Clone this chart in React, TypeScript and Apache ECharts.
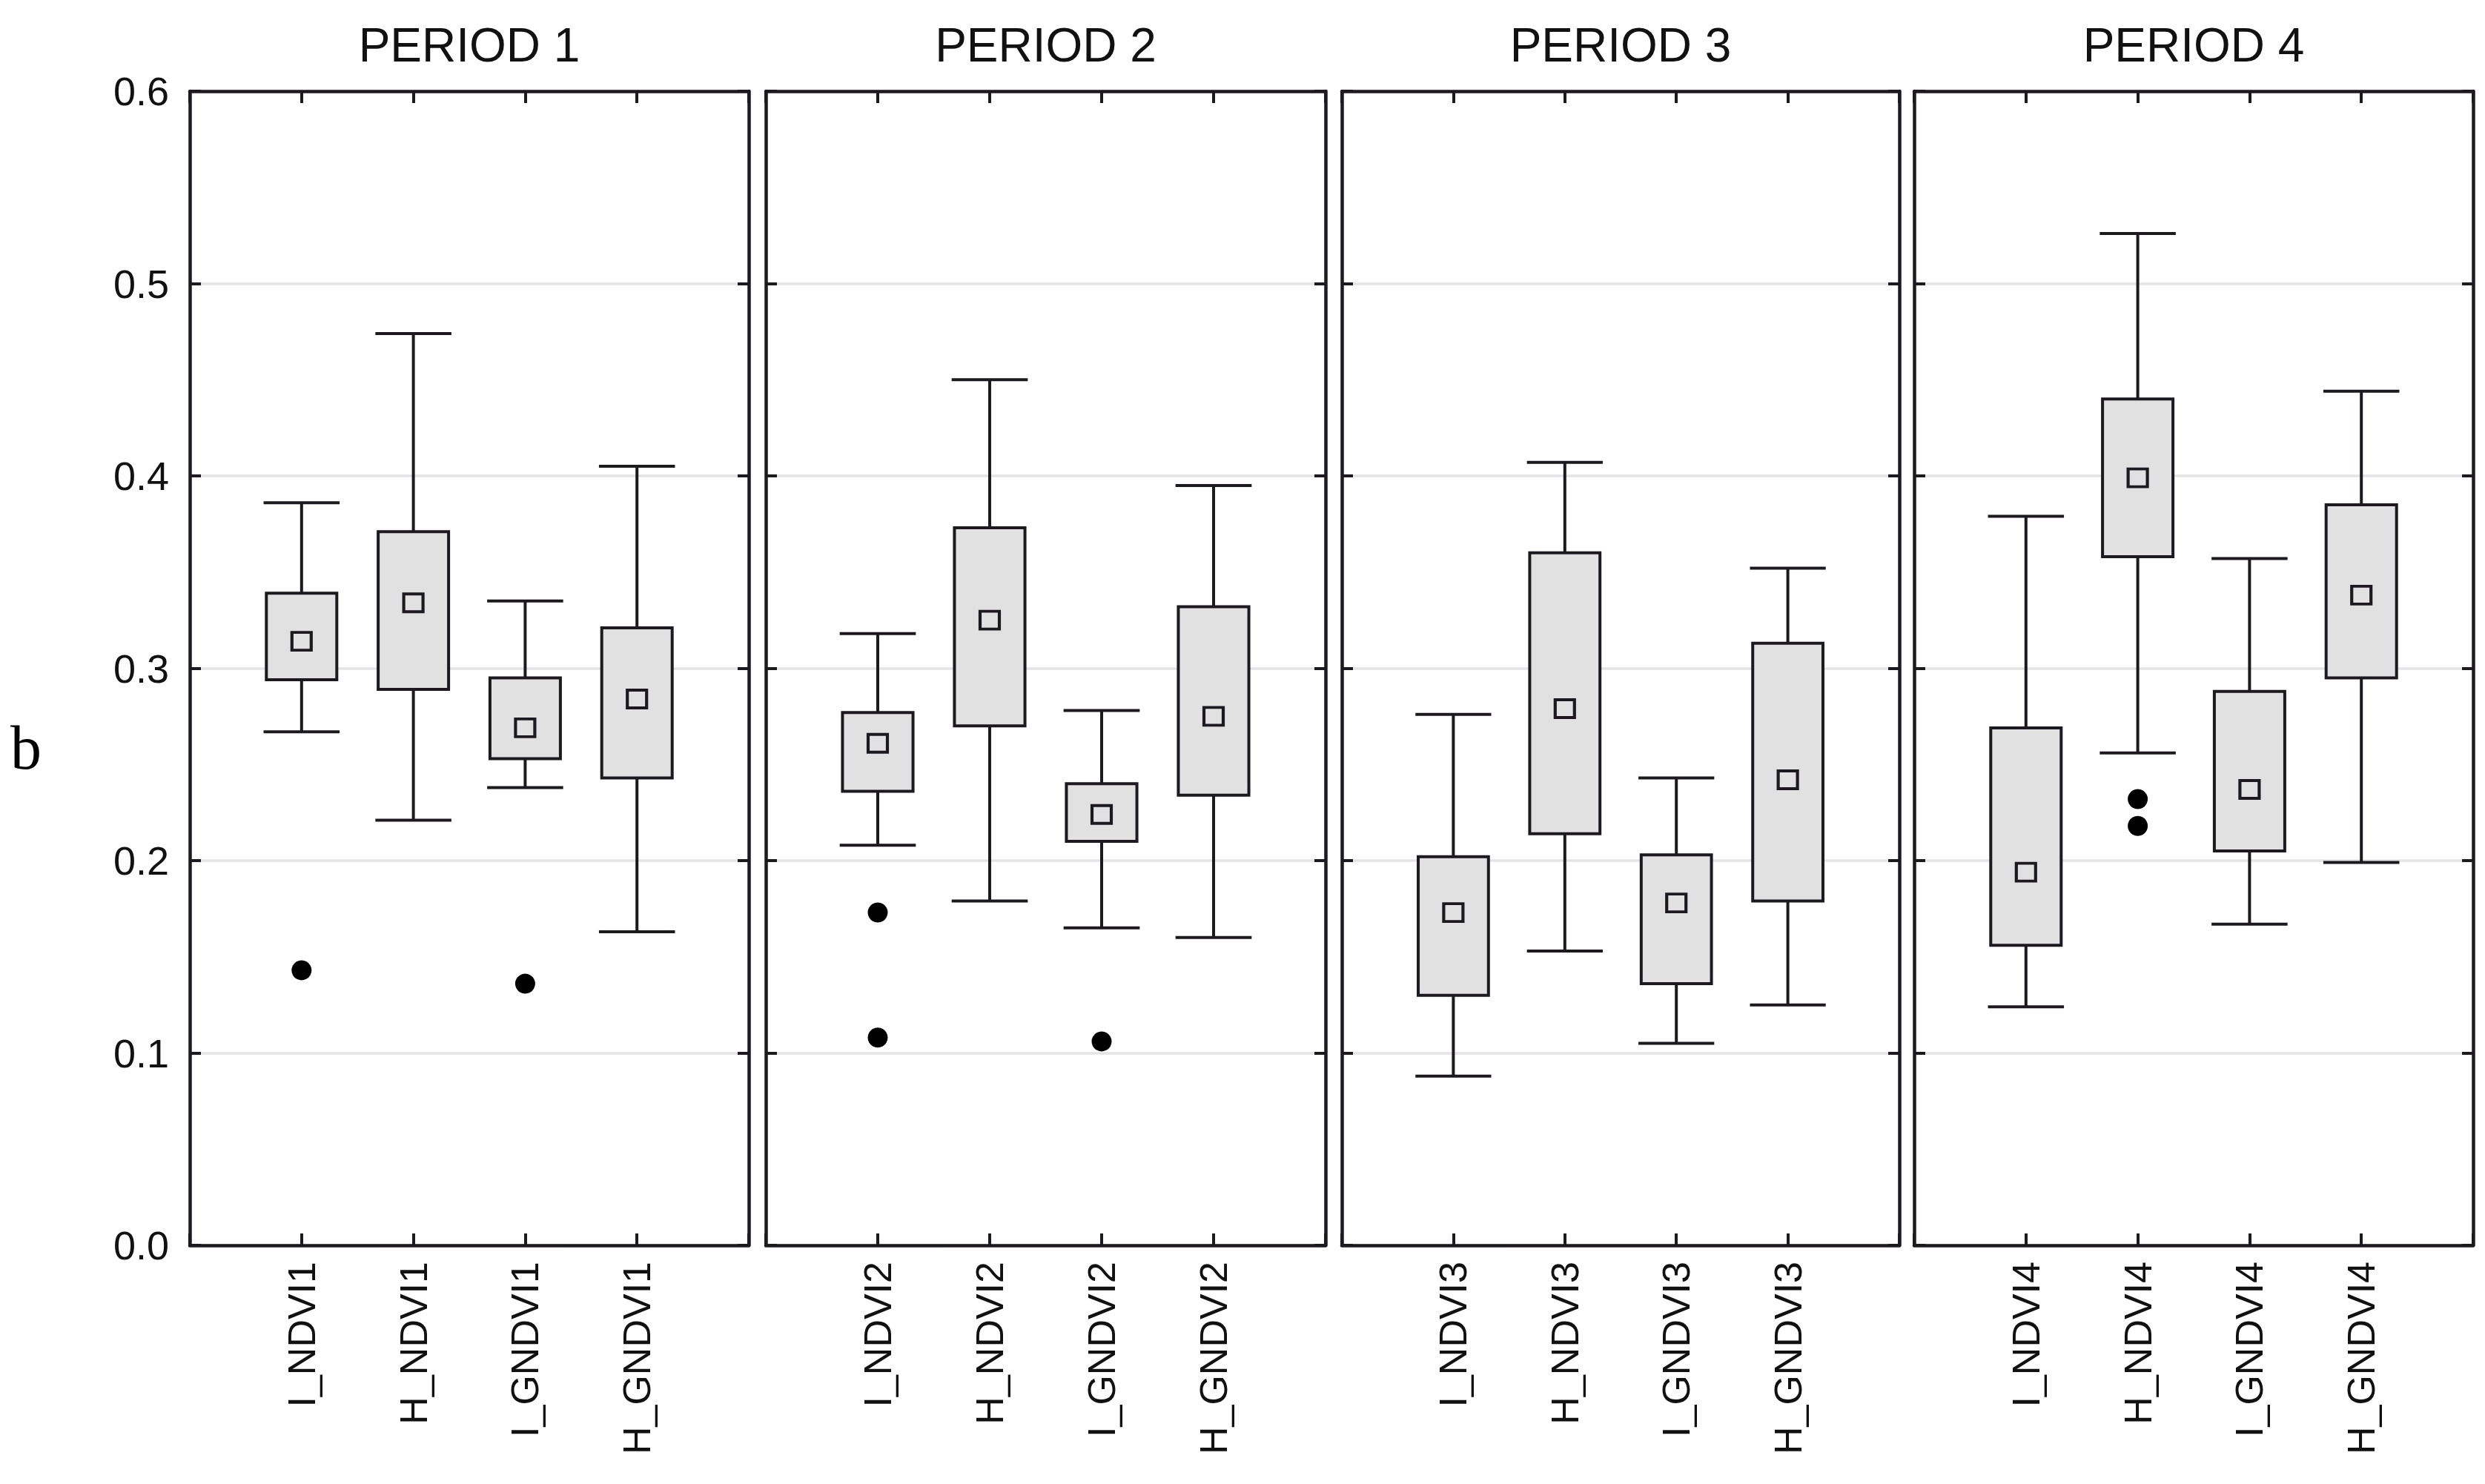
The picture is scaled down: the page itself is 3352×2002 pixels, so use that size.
import React, { useEffect, useRef } from "react";
import * as echarts from "echarts";

const periods = ["PERIOD 1", "PERIOD 2", "PERIOD 3", "PERIOD 4"];

const categories1 = ["I_NDVI1", "H_NDVI1", "I_GNDVI1", "H_GNDVI1"];
const categories2 = ["I_NDVI2", "H_NDVI2", "I_GNDVI2", "H_GNDVI2"];
const categories3 = ["I_NDVI3", "H_NDVI3", "I_GNDVI3", "H_GNDVI3"];
const categories4 = ["I_NDVI4", "H_NDVI4", "I_GNDVI4", "H_GNDVI4"];
const categories = [categories1, categories2, categories3, categories4];

// per period, per variable
const whiskerLow = [
  [0.267, 0.221, 0.238, 0.163],
  [0.208, 0.179, 0.165, 0.16],
  [0.088, 0.153, 0.105, 0.125],
  [0.124, 0.256, 0.167, 0.199],
];
const boxLow = [
  [0.294, 0.289, 0.253, 0.243],
  [0.236, 0.27, 0.21, 0.234],
  [0.13, 0.214, 0.136, 0.179],
  [0.156, 0.358, 0.205, 0.295],
];
const centre = [
  [0.314, 0.334, 0.269, 0.284],
  [0.261, 0.325, 0.224, 0.275],
  [0.173, 0.279, 0.178, 0.242],
  [0.194, 0.399, 0.237, 0.338],
];
const boxHigh = [
  [0.339, 0.371, 0.295, 0.321],
  [0.277, 0.373, 0.24, 0.332],
  [0.202, 0.36, 0.203, 0.313],
  [0.269, 0.44, 0.288, 0.385],
];
const whiskerHigh = [
  [0.386, 0.474, 0.335, 0.405],
  [0.318, 0.45, 0.278, 0.395],
  [0.276, 0.407, 0.243, 0.352],
  [0.379, 0.526, 0.357, 0.444],
];
// [period index, variable index, value]
const outliers = [
  [0, 0, 0.143],
  [0, 2, 0.136],
  [1, 0, 0.173],
  [1, 0, 0.108],
  [1, 2, 0.106],
  [3, 1, 0.232],
  [3, 1, 0.218],
];

const yTicks = [0, 0.1, 0.2, 0.3, 0.4, 0.5, 0.6];

const INK = "#1c1a1f";
const BOXFILL = "#e1e1e1";
const GRIDC = "#e4e4e4";

const gridLefts = [256, 1033, 1810, 2582];
const gridWidths = [754, 755, 752, 754];
const gridTop = 123;
const gridHeight = 1557;

export default function App() {
  const ref = useRef<HTMLDivElement>(null);

  useEffect(() => {
    if (!ref.current) return;
    const chart = echarts.init(ref.current, null, { renderer: "svg" });

    const grids: any[] = [];
    const xAxes: any[] = [];
    const yAxes: any[] = [];
    const series: any[] = [];
    const graphics: any[] = [];

    periods.forEach((p, i) => {
      grids.push({
        left: gridLefts[i],
        top: gridTop,
        width: gridWidths[i],
        height: gridHeight,
        show: false,
      });
      const names = categories[i];
      const xBase = {
        type: "value",
        gridIndex: i,
        min: 0,
        max: 5,
        interval: 1,
        z: 3,
        axisLine: { show: true, onZero: false, lineStyle: { color: INK, width: 4.5 } },
        axisTick: { show: true, inside: true, length: 16, lineStyle: { color: INK, width: 4 } },
        splitLine: { show: false },
      };
      xAxes.push({
        ...xBase,
        position: "bottom",
        axisLabel: {
          show: true,
          rotate: 90,
          margin: 22,
          fontSize: 52,
          fontFamily: "Liberation Sans",
          color: "#111",
          formatter: (v: number) => names[v - 1] ?? "",
        },
      });
      xAxes.push({
        ...xBase,
        position: "top",
        axisLabel: { show: false },
      });
      const yBase = {
        type: "value",
        gridIndex: i,
        min: yTicks[0],
        max: yTicks[yTicks.length - 1],
        interval: 0.1,
        axisLine: { show: true, onZero: false, lineStyle: { color: INK, width: 4.5 } },
        axisTick: { show: true, inside: true, length: 15, lineStyle: { color: INK, width: 4 } },
      };
      yAxes.push({
        ...yBase,
        position: "left",
        z: 1,
        splitLine: { show: true, lineStyle: { color: GRIDC, width: 3.5 } },
        axisLabel: {
          show: i === 0,
          margin: 28,
          fontSize: 54,
          fontFamily: "Liberation Sans",
          color: "#111",
          formatter: (v: number) => v.toFixed(1),
        },
      });
      yAxes.push({
        ...yBase,
        position: "right",
        z: 3,
        splitLine: { show: false },
        axisLabel: { show: false },
      });

      const boxData = names.map((_, k) => [
        k + 1,
        whiskerLow[i][k],
        boxLow[i][k],
        boxHigh[i][k],
        whiskerHigh[i][k],
      ]);
      series.push({
        type: "custom",
        xAxisIndex: i * 2,
        yAxisIndex: i * 2,
        z: 4,
        encode: { x: 0, y: [1, 2, 3, 4] },
        data: boxData,
        renderItem: (params: any, api: any) => {
          const x = api.value(0);
          const lo = api.coord([x, api.value(1)]);
          const q1 = api.coord([x, api.value(2)]);
          const q3 = api.coord([x, api.value(3)]);
          const hi = api.coord([x, api.value(4)]);
          const unit = api.size([1, 0])[0];
          const bw = unit * 0.63;
          const cw = unit * 0.68;
          const ls = { stroke: INK, lineWidth: 4 };
          return {
            type: "group",
            children: [
              { type: "line", shape: { x1: lo[0], y1: lo[1], x2: hi[0], y2: hi[1] }, style: ls },
              { type: "line", shape: { x1: lo[0] - cw / 2, y1: lo[1], x2: lo[0] + cw / 2, y2: lo[1] }, style: ls },
              { type: "line", shape: { x1: hi[0] - cw / 2, y1: hi[1], x2: hi[0] + cw / 2, y2: hi[1] }, style: ls },
              {
                type: "rect",
                shape: { x: q3[0] - bw / 2, y: q3[1], width: bw, height: q1[1] - q3[1] },
                style: { fill: BOXFILL, stroke: INK, lineWidth: 4 },
              },
            ],
          };
        },
      });
      series.push({
        type: "scatter",
        xAxisIndex: i * 2,
        yAxisIndex: i * 2,
        z: 5,
        symbol: "rect",
        symbolSize: [26, 24],
        itemStyle: { color: BOXFILL, borderColor: INK, borderWidth: 4, opacity: 1 },
        data: names.map((_, k) => [k + 1, centre[i][k]]),
      });
      series.push({
        type: "scatter",
        xAxisIndex: i * 2,
        yAxisIndex: i * 2,
        z: 5,
        symbol: "circle",
        symbolSize: 27,
        itemStyle: { color: "#000", opacity: 1 },
        data: outliers.filter((o) => o[0] === i).map((o) => [o[1] + 1, o[2]]),
      });

      graphics.push({
        type: "text",
        x: gridLefts[i] + gridWidths[i] / 2,
        y: 61,
        style: {
          text: p,
          textAlign: "center",
          textVerticalAlign: "middle",
          fontSize: 64,
          fontFamily: "Liberation Sans",
          fill: "#111",
        },
      });
    });

    graphics.push({
      type: "text",
      x: 14,
      y: 1008,
      style: {
        text: "b",
        textAlign: "left",
        textVerticalAlign: "middle",
        fontSize: 84,
        fontFamily: "Liberation Serif",
        fill: "#000",
      },
    });

    chart.setOption({
      animation: false,
      backgroundColor: "#ffffff",
      grid: grids,
      xAxis: xAxes,
      yAxis: yAxes,
      series,
      graphic: graphics,
    });

    return () => chart.dispose();
  }, []);

  return (
    <div
      ref={ref}
      style={{ position: "absolute", left: 0, top: 0, width: 3352, height: 2002 }}
    />
  );
}
